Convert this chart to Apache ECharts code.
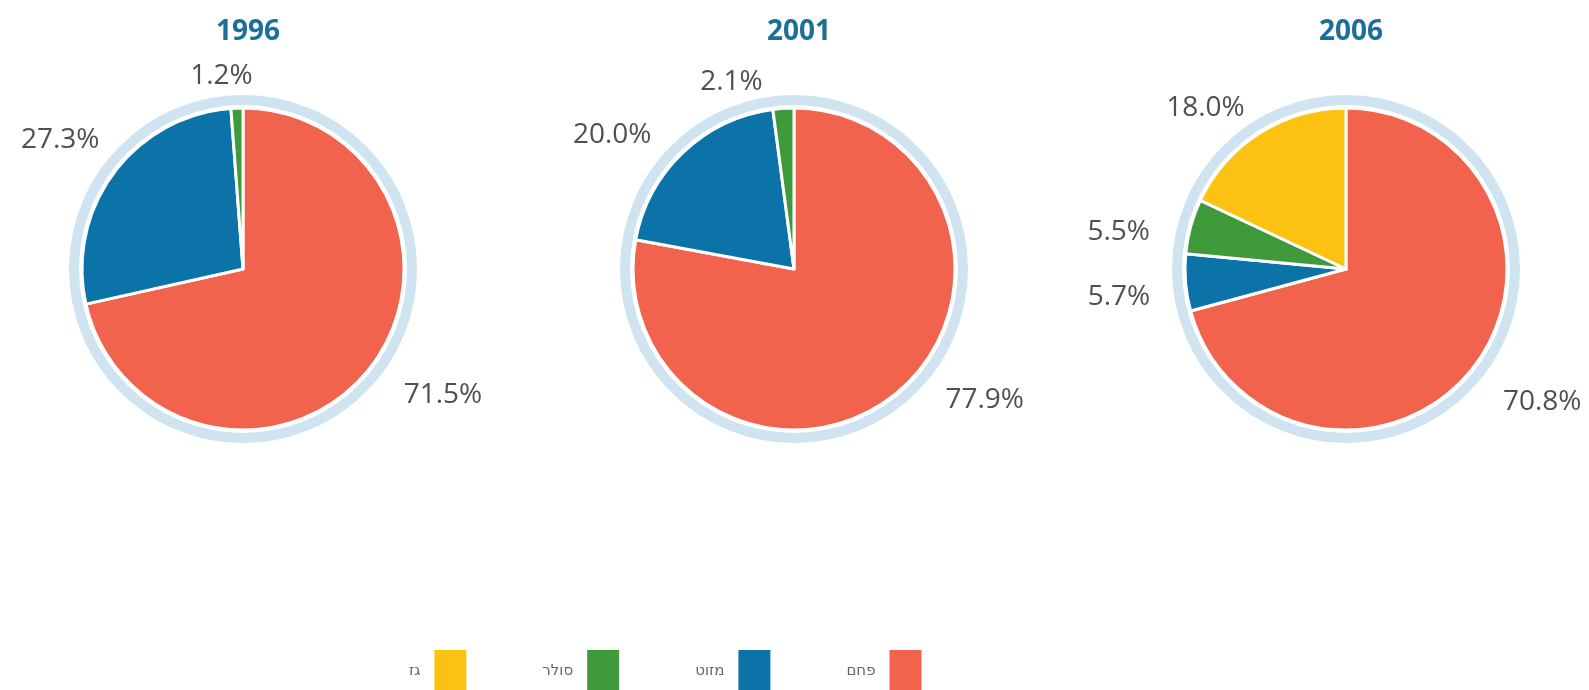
<!DOCTYPE html>
<html>
<head>
<meta charset="utf-8">
<script src="https://cdn.jsdelivr.net/npm/echarts@6/dist/echarts.min.js"></script>
<style>
  html, body { margin: 0; padding: 0; background: #ffffff; }
  #chart { width: 1589px; height: 690px; }
</style>
</head>
<body>
<div id="chart"></div>
<script>
// Fuel shares of electricity generation, percent
const years = ['1996', '2001', '2006'];
const fuels = ['גז', 'סולר', 'מזוט', 'פחם'];          // gas, diesel, fuel oil, coal
const fuelColors = ['#fcc212', '#3f9a3c', '#0b73a7', '#f2634d'];

// slice order: coal first from 12 o'clock, then fuel oil, diesel, gas
const slices1996 = { names: ['פחם', 'מזוט', 'סולר'],        values: [71.5, 27.3, 1.2] };
const slices2001 = { names: ['פחם', 'מזוט', 'סולר'],        values: [77.9, 20.0, 2.1] };
const slices2006 = { names: ['פחם', 'מזוט', 'סולר', 'גז'], values: [70.8, 5.7, 5.5, 18.0] };

// label placement per slice: [labelLine length, labelLine length2]
const reach1996 = [[41, -2], [55, -35], [32, -22]];
const reach2001 = [[10, 37], [24, 10], [26, 14]];
const reach2006 = [[58, -22], [168, -137], [-21, 56], [30, -6]];

const pieRadius = 161;
const centers = [[243, 269], [794, 269], [1346, 269]];

function colorOf(name) {
  return fuelColors[fuels.indexOf(name)];
}

function ringSeries(center) {
  return {
    type: 'pie',
    silent: true,
    center: center,
    radius: [pieRadius + 3, pieRadius + 13],
    label: { show: false },
    labelLine: { show: false },
    itemStyle: { color: '#d0e3f0' },
    emphasis: { disabled: true },
    z: 1,
    data: [{ name: 'ring', value: 1 }]
  };
}

function pieSeries(center, slices, reach) {
  return {
    type: 'pie',
    center: center,
    radius: pieRadius,
    startAngle: 90,
    clockwise: true,
    avoidLabelOverlap: false,
    z: 2,
    itemStyle: { borderColor: '#ffffff', borderWidth: 3 },
    emphasis: { scale: false },
    label: {
      show: true,
      position: 'outside',
      formatter: p => p.value.toFixed(1) + '%',
      fontFamily: 'Open Sans',
      fontSize: 28,
      color: '#505050',
      distanceToLabelLine: 5
    },
    labelLine: { show: false },
    data: slices.names.map((n, i) => ({
      name: n,
      value: slices.values[i],
      itemStyle: { color: colorOf(n) },
      labelLine: { show: false, length: reach[i][0], length2: reach[i][1] }
    }))
  };
}

const chart = echarts.init(document.getElementById('chart'), null, { renderer: 'canvas' });

chart.setOption({
  backgroundColor: '#ffffff',
  animation: false,
  title: years.map((y, i) => ({
    text: y,
    left: centers[i][0],
    top: 13,
    textAlign: 'center',
    textStyle: {
      fontFamily: 'Open Sans',
      fontWeight: 'bold',
      fontSize: 28,
      color: '#1d6f9b'
    }
  })),
  legend: {
    data: fuels,
    left: 404,
    top: 643,
    align: 'right',
    icon: 'rect',
    itemWidth: 34,
    itemHeight: 44,
    itemGap: 74,
    textStyle: {
      fontFamily: 'DejaVu Sans',
      fontSize: 15,
      color: '#666666',
      padding: [0, 8, 0, 0]
    }
  },
  series: [
    ringSeries(centers[0]),
    ringSeries(centers[1]),
    ringSeries(centers[2]),
    pieSeries(centers[0], slices1996, reach1996),
    pieSeries(centers[1], slices2001, reach2001),
    pieSeries(centers[2], slices2006, reach2006)
  ]
});
</script>
</body>
</html>
